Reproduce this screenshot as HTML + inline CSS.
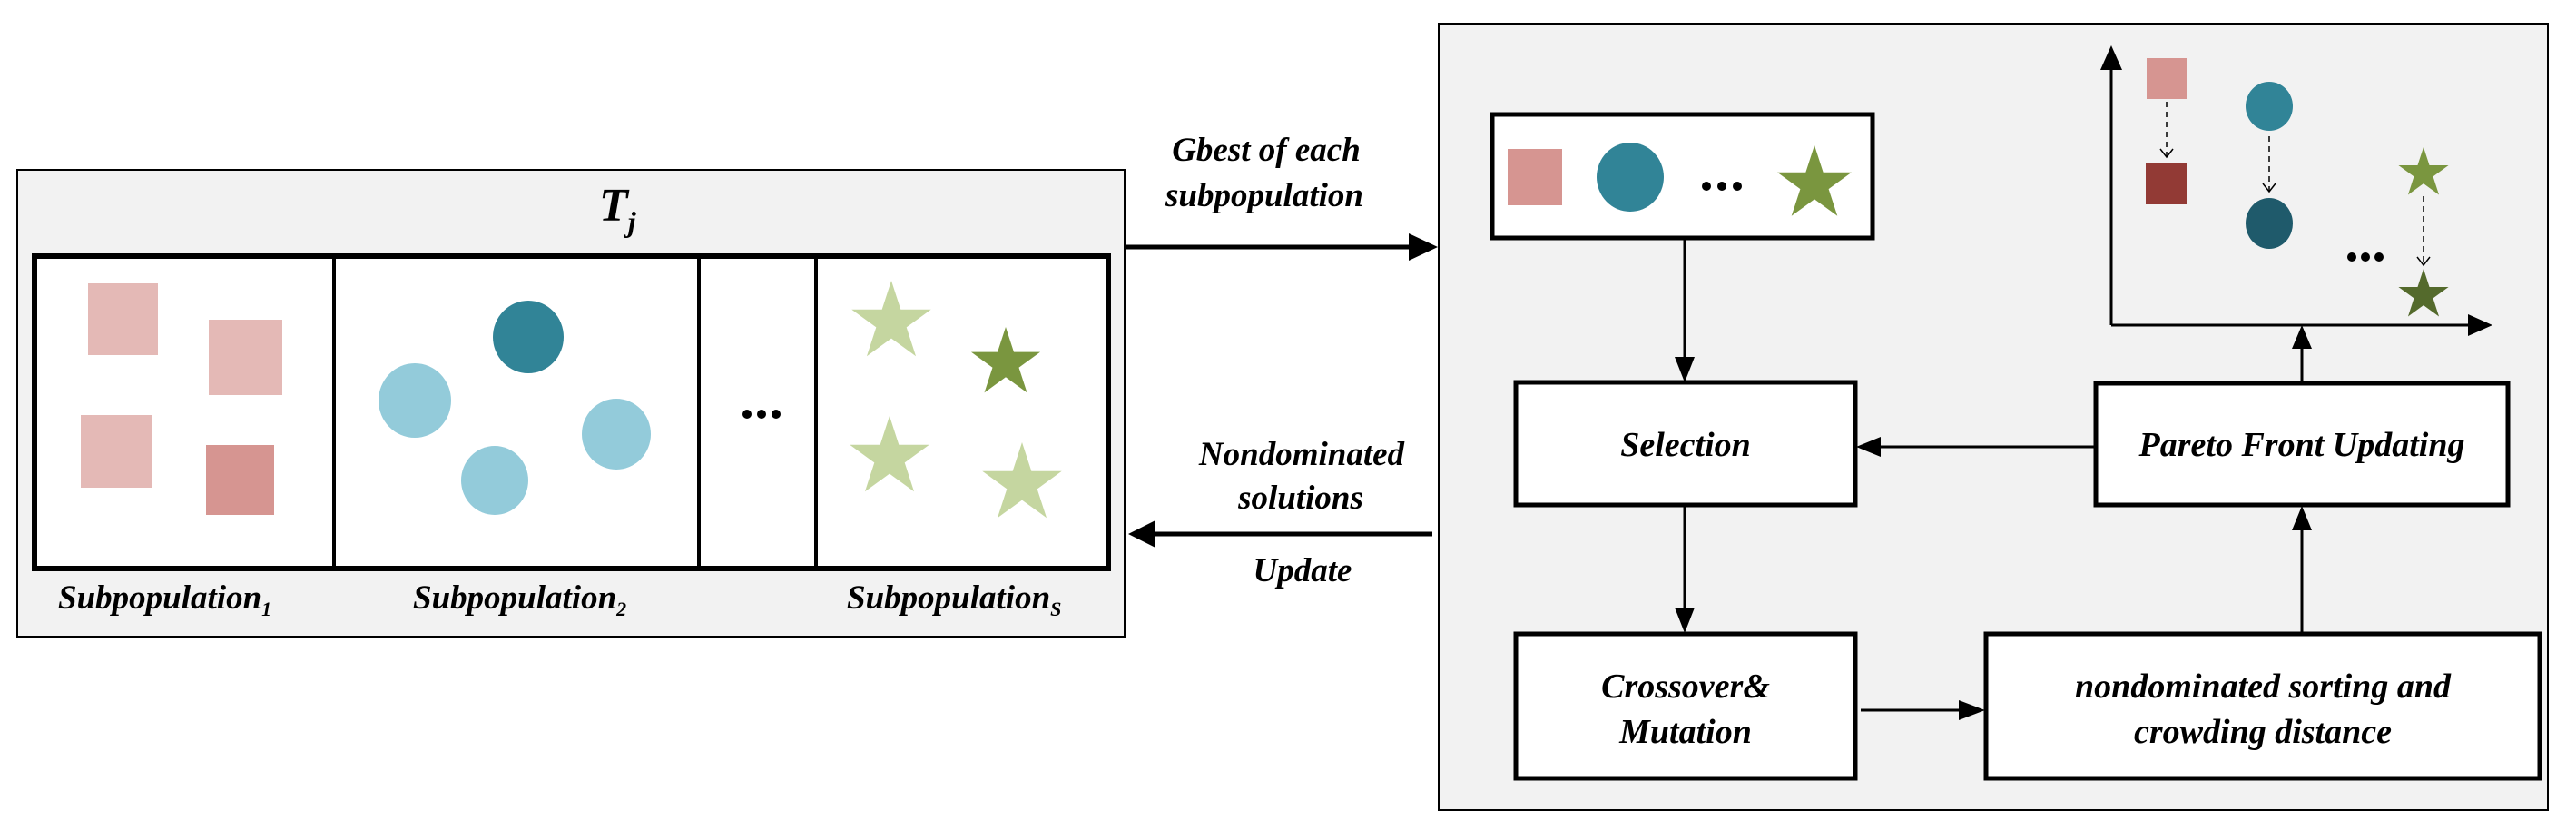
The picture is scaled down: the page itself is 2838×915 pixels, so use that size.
<!DOCTYPE html>
<html><head><meta charset="utf-8"><style>
html,body{margin:0;padding:0;background:#fff;}
svg{display:block;}
text{font-family:"Liberation Serif",serif;font-style:italic;font-weight:bold;fill:#000;}
</style></head><body>
<svg width="2838" height="915" viewBox="0 0 2838 915" xmlns="http://www.w3.org/2000/svg">
<defs>
<polygon id="st" points="0,-1 0.2245,-0.309 0.951,-0.309 0.363,0.118 0.588,0.809 0,0.382 -0.588,0.809 -0.363,0.118 -0.951,-0.309 -0.2245,-0.309"/>
</defs>
<!-- Left panel -->
<rect x="19" y="187" width="1220" height="514" fill="#f2f2f2" stroke="#000" stroke-width="2"/>
<rect x="38" y="282" width="1183" height="344" fill="#fff" stroke="#000" stroke-width="6"/>
<line x1="368" y1="282" x2="368" y2="626" stroke="#000" stroke-width="4"/>
<line x1="770" y1="282" x2="770" y2="626" stroke="#000" stroke-width="4"/>
<line x1="899" y1="282" x2="899" y2="626" stroke="#000" stroke-width="4"/>
<text x="660" y="243" font-size="52">T<tspan font-size="32" dy="12">j</tspan></text>
<rect x="97" y="312" width="77" height="79" fill="#e4b9b6"/>
<rect x="230" y="352" width="81" height="83" fill="#e4b9b6"/>
<rect x="89" y="457" width="78" height="80" fill="#e4b9b6"/>
<rect x="227" y="490" width="75" height="77" fill="#d69591"/>
<ellipse cx="582" cy="371" rx="39" ry="40" fill="#318497"/>
<ellipse cx="457" cy="441" rx="40" ry="41" fill="#93cbda"/>
<ellipse cx="679" cy="478" rx="38" ry="39" fill="#93cbda"/>
<ellipse cx="545" cy="529" rx="37" ry="38" fill="#93cbda"/>
<circle cx="823" cy="456" r="5"/><circle cx="839" cy="456" r="5"/><circle cx="855" cy="456" r="5"/>
<use href="#st" transform="translate(982,355) scale(46)" fill="#c5d6a0"/>
<use href="#st" transform="translate(1108,400) scale(40)" fill="#7a963f"/>
<use href="#st" transform="translate(980,504) scale(46)" fill="#c5d6a0"/>
<use href="#st" transform="translate(1126,533) scale(46)" fill="#c5d6a0"/>
<text x="64" y="670" font-size="37">Subpopulation<tspan font-size="22" dy="8">1</tspan></text>
<text x="455" y="670" font-size="37">Subpopulation<tspan font-size="22" dy="8">2</tspan></text>
<text x="933" y="670" font-size="37">Subpopulation<tspan font-size="22" dy="8">S</tspan></text>
<!-- middle -->
<text x="1395" y="177" font-size="37" text-anchor="middle">Gbest of each</text>
<text x="1393" y="227" font-size="37" text-anchor="middle">subpopulation</text>
<line x1="1240" y1="272" x2="1556" y2="272" stroke="#000" stroke-width="5"/>
<polygon points="1584,272 1552,257 1552,287"/>
<text x="1434" y="512" font-size="37" text-anchor="middle">Nondominated</text>
<text x="1433" y="560" font-size="37" text-anchor="middle">solutions</text>
<text x="1435" y="640" font-size="37" text-anchor="middle">Update</text>
<line x1="1270" y1="588" x2="1578" y2="588" stroke="#000" stroke-width="5"/>
<polygon points="1243,588 1273,573 1273,603"/>
<!-- right panel -->
<rect x="1585" y="26" width="1222" height="866" fill="#f2f2f2" stroke="#000" stroke-width="2"/>
<rect x="1644" y="126" width="419" height="136" fill="#fff" stroke="#000" stroke-width="5"/>
<rect x="1661" y="164" width="60" height="62" fill="#d69591"/>
<ellipse cx="1796" cy="195" rx="37" ry="38" fill="#318497"/>
<circle cx="1880" cy="205" r="5"/><circle cx="1897" cy="205" r="5"/><circle cx="1914" cy="205" r="5"/>
<use href="#st" transform="translate(1999,203) scale(43)" fill="#7a963f"/>
<line x1="1856" y1="262" x2="1856" y2="400" stroke="#000" stroke-width="3"/>
<polygon points="1856,421 1845,393 1867,393"/>
<rect x="1670" y="421" width="374" height="135" fill="#fff" stroke="#000" stroke-width="5"/>
<text x="1857" y="502" font-size="38" text-anchor="middle">Selection</text>
<rect x="2309" y="422" width="454" height="134" fill="#fff" stroke="#000" stroke-width="5"/>
<text x="2536" y="502" font-size="38" text-anchor="middle">Pareto Front Updating</text>
<line x1="2308" y1="492" x2="2066" y2="492" stroke="#000" stroke-width="3"/>
<polygon points="2045,492 2072,481 2072,503"/>
<line x1="1856" y1="556" x2="1856" y2="676" stroke="#000" stroke-width="3"/>
<polygon points="1856,697 1845,669 1867,669"/>
<rect x="1670" y="698" width="374" height="159" fill="#fff" stroke="#000" stroke-width="5"/>
<text x="1857" y="768" font-size="38" text-anchor="middle">Crossover&amp;</text>
<text x="1857" y="818" font-size="38" text-anchor="middle">Mutation</text>
<rect x="2188" y="698" width="610" height="159" fill="#fff" stroke="#000" stroke-width="5"/>
<text x="2493" y="768" font-size="38" text-anchor="middle">nondominated sorting and</text>
<text x="2493" y="818" font-size="38" text-anchor="middle">crowding distance</text>
<line x1="2050" y1="782" x2="2162" y2="782" stroke="#000" stroke-width="3"/>
<polygon points="2187,782 2158,771 2158,793"/>
<line x1="2536" y1="697" x2="2536" y2="582" stroke="#000" stroke-width="3"/>
<polygon points="2536,557 2525,584 2547,584"/>
<line x1="2536" y1="421" x2="2536" y2="382" stroke="#000" stroke-width="3"/>
<polygon points="2536,358 2525,384 2547,384"/>
<!-- axes -->
<line x1="2326" y1="358" x2="2326" y2="72" stroke="#000" stroke-width="3"/>
<polygon points="2326,50 2314,77 2338,77"/>
<line x1="2326" y1="358" x2="2722" y2="358" stroke="#000" stroke-width="3"/>
<polygon points="2746,358 2719,346 2719,370"/>
<rect x="2365" y="64" width="44" height="45" fill="#d69591"/>
<rect x="2364" y="180" width="45" height="45" fill="#923a35"/>
<line x1="2387" y1="112" x2="2387" y2="172" stroke="#000" stroke-width="1.5" stroke-dasharray="6,5"/>
<polyline points="2380,164 2387,173 2394,164" fill="none" stroke="#000" stroke-width="1.5"/>
<ellipse cx="2500" cy="117" rx="26" ry="27" fill="#318497"/>
<ellipse cx="2500" cy="246" rx="26" ry="28" fill="#1f5a6b"/>
<line x1="2500" y1="150" x2="2500" y2="210" stroke="#000" stroke-width="1.5" stroke-dasharray="6,5"/>
<polyline points="2493,202 2500,211 2507,202" fill="none" stroke="#000" stroke-width="1.5"/>
<use href="#st" transform="translate(2670,191) scale(29)" fill="#7a963f"/>
<use href="#st" transform="translate(2670,325) scale(29)" fill="#546a2c"/>
<line x1="2670" y1="216" x2="2670" y2="291" stroke="#000" stroke-width="1.5" stroke-dasharray="6,5"/>
<polyline points="2663,283 2670,292 2677,283" fill="none" stroke="#000" stroke-width="1.5"/>
<circle cx="2591" cy="283" r="5"/><circle cx="2606" cy="283" r="5"/><circle cx="2621" cy="283" r="5"/>
</svg>
</body></html>
